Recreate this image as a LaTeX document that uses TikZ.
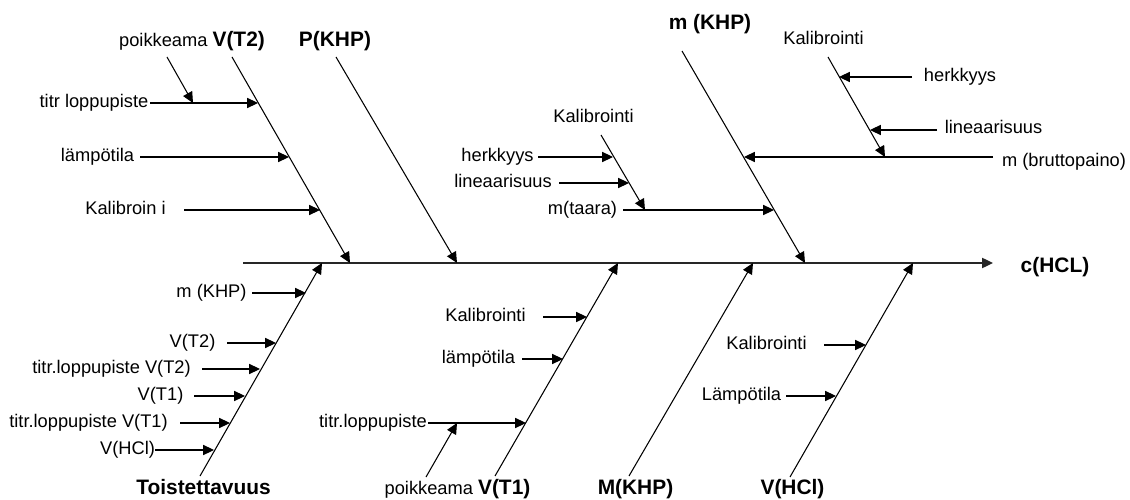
\documentclass[tikz,border=0pt]{standalone}
\usepackage{fontspec}
\setmainfont{Liberation Sans}
\usetikzlibrary{arrows.meta}
\begin{document}
\begin{tikzpicture}[x=0.02cm,y=-0.02cm,
  bone/.style={line width=0.6pt},
  arr/.style={bone,-{Triangle[length=6.2pt,width=5.8pt]}},
  lbl/.style={inner sep=0pt,text height=0.75em,text depth=0.2em,font=\fontsize{10.4}{12}\selectfont},
  head/.style={inner sep=0pt,text height=0.75em,text depth=0.2em,font=\fontsize{11.9}{14}\selectfont\bfseries}]
\useasboundingbox (0,0) rectangle (1130,500);

% main spine
\coordinate (s0) at (243,263);
\coordinate (s1) at (993,263);
\draw[arr,line width=0.8pt,black!85] (s0) -- (s1);
\node[head] (res) at (1055,268) {c(HCL)};

% ---- upper left: V(T2)
\node[lbl] (v2lab) at (192,42) {poikkeama {\fontsize{11.9}{14}\selectfont\bfseries V(T2)}};
\coordinate (v2a) at (232,57); \coordinate (v2b) at (350,263);
\draw[arr] (v2a) -- (v2b);
\node[lbl] (tlp) at (94,103) {titr loppupiste};
\coordinate (tlpa) at (150,103); \coordinate (tlpb) at (258,103);
\draw[arr] (tlpa) -- (tlpb);
\coordinate (pka) at (167,57); \coordinate (pkb) at (193,103);
\draw[arr] (pka) -- (pkb);
\node[lbl] (lt2) at (97.5,157) {lämpötila};
\coordinate (lt2a) at (140,157); \coordinate (lt2b) at (289,157);
\draw[arr] (lt2a) -- (lt2b);
\node[lbl] (kal2) at (125.5,210) {Kalibroin i};
\coordinate (kal2a) at (184,210); \coordinate (kal2b) at (320,210);
\draw[arr] (kal2a) -- (kal2b);

% ---- upper: P(KHP)
\node[head] (pkhp) at (335,42) {P(KHP)};
\coordinate (pa) at (336,57); \coordinate (pb) at (457,263);
\draw[arr] (pa) -- (pb);

% ---- upper right: m (KHP)
\node[head] (mkhp) at (710,25) {m (KHP)};
\coordinate (ma) at (682,51); \coordinate (mb) at (805,263);
\draw[arr] (ma) -- (mb);
\node[lbl] (brutto) at (1064,162) {m (bruttopaino)};
\coordinate (bra) at (993,157); \coordinate (brb) at (744,157);
\draw[arr] (bra) -- (brb);
\node[lbl] (kalR) at (823.5,40) {Kalibrointi};
\coordinate (kRa) at (828,57); \coordinate (kRb) at (885,157);
\draw[arr] (kRa) -- (kRb);
\node[lbl] (herR) at (960,77) {herkkyys};
\coordinate (hRa) at (912,77); \coordinate (hRb) at (839,77);
\draw[arr] (hRa) -- (hRb);
\node[lbl] (linR) at (993.5,129) {lineaarisuus};
\coordinate (lRa) at (937,130); \coordinate (lRb) at (870,130);
\draw[arr] (lRa) -- (lRb);
\node[lbl] (taara) at (582.5,210) {m(taara)};
\coordinate (ta) at (623,210); \coordinate (tb) at (774,210);
\draw[arr] (ta) -- (tb);
\node[lbl] (kalM) at (593.5,118) {Kalibrointi};
\coordinate (kMa) at (601,135); \coordinate (kMb) at (645,210);
\draw[arr] (kMa) -- (kMb);
\node[lbl] (herM) at (497.5,157) {herkkyys};
\coordinate (hMa) at (538,157); \coordinate (hMb) at (613,157);
\draw[arr] (hMa) -- (hMb);
\node[lbl] (linM) at (503,183) {lineaarisuus};
\coordinate (lMa) at (559,183); \coordinate (lMb) at (629,183);
\draw[arr] (lMa) -- (lMb);

% ---- lower left: Toistettavuus
\node[head] (rep) at (203.5,490) {Toistettavuus};
\coordinate (ra) at (200,476); \coordinate (rb) at (322,263);
\draw[arr] (ra) -- (rb);
\node[lbl] (r1) at (211.5,293) {m (KHP)};
\coordinate (r1a) at (252,293); \coordinate (r1b) at (306,293);
\draw[arr] (r1a) -- (r1b);
\node[lbl] (r2) at (192.5,343) {V(T2)};
\coordinate (r2a) at (227,343); \coordinate (r2b) at (276,343);
\draw[arr] (r2a) -- (r2b);
\node[lbl] (r3) at (111.5,369) {titr.loppupiste V(T2)};
\coordinate (r3a) at (202,369); \coordinate (r3b) at (260,369);
\draw[arr] (r3a) -- (r3b);
\node[lbl] (r4) at (160.5,396) {V(T1)};
\coordinate (r4a) at (194,396); \coordinate (r4b) at (245,396);
\draw[arr] (r4a) -- (r4b);
\node[lbl] (r5) at (88.5,423) {titr.loppupiste V(T1)};
\coordinate (r5a) at (180,423); \coordinate (r5b) at (230,423);
\draw[arr] (r5a) -- (r5b);
\node[lbl] (r6) at (127.5,450) {V(HCl)};
\coordinate (r6a) at (155,450); \coordinate (r6b) at (214,450);
\draw[arr] (r6a) -- (r6b);

% ---- lower: V(T1)
\node[lbl] (v1lab) at (457.5,490) {poikkeama {\fontsize{11.9}{14}\selectfont\bfseries V(T1)}};
\coordinate (v1a) at (495,476); \coordinate (v1b) at (618,263);
\draw[arr] (v1a) -- (v1b);
\node[lbl] (k1) at (485.5,317) {Kalibrointi};
\coordinate (k1a) at (543,317); \coordinate (k1b) at (587,317);
\draw[arr] (k1a) -- (k1b);
\node[lbl] (l1) at (478.5,359) {lämpötila};
\coordinate (l1a) at (522,359); \coordinate (l1b) at (563,359);
\draw[arr] (l1a) -- (l1b);
\node[lbl] (t1) at (373,423) {titr.loppupiste};
\coordinate (t1a) at (428,423); \coordinate (t1b) at (526,423);
\draw[arr] (t1a) -- (t1b);
\coordinate (p1a) at (426,477); \coordinate (p1b) at (457,423);
\draw[arr] (p1a) -- (p1b);

% ---- lower: M(KHP)
\node[head] (mm) at (635.5,490) {M(KHP)};
\coordinate (mma) at (629,476); \coordinate (mmb) at (753,263);
\draw[arr] (mma) -- (mmb);

% ---- lower right: V(HCl)
\node[head] (vh) at (792.5,490) {V(HCl)};
\coordinate (vha) at (790,477); \coordinate (vhb) at (913,263);
\draw[arr] (vha) -- (vhb);
\node[lbl] (kh) at (766.5,345) {Kalibrointi};
\coordinate (kha) at (824,345); \coordinate (khb) at (866,345);
\draw[arr] (kha) -- (khb);
\node[lbl] (lh) at (741.5,396) {Lämpötila};
\coordinate (lha) at (786,396); \coordinate (lhb) at (836,396);
\draw[arr] (lha) -- (lhb);
\end{tikzpicture}
\end{document}
